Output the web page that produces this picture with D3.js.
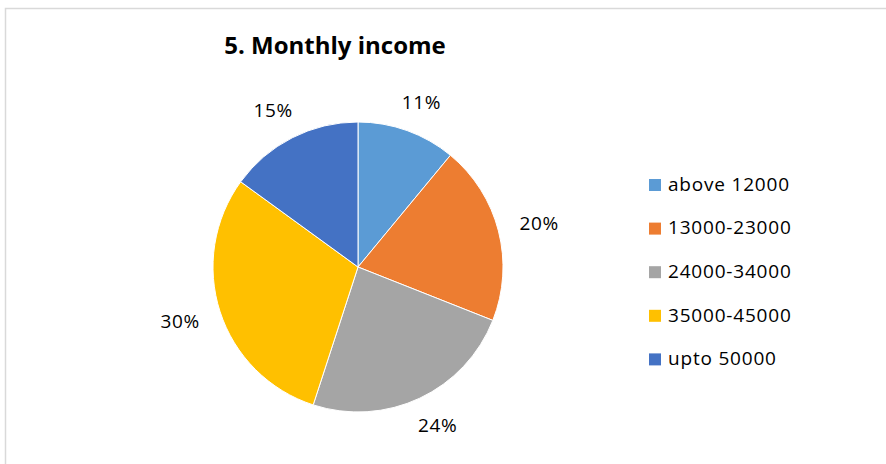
<!DOCTYPE html>
<html>
<head>
    <meta charset="UTF-8">
    <title>Monthly income</title>
    <style>
        body { margin: 0; background: #fff; }
        text { font-family: "Open Sans", Lato, sans-serif; fill: #000; }
        .title { font-size: 24px; font-weight: bold; }
        .lbl { font-size: 19px; letter-spacing: 0.6px; }
        .legend text { font-size: 19px; letter-spacing: 0.8px; }
    </style>
</head>
<body>
<svg width="886" height="464"></svg>
<script src="https://cdn.jsdelivr.net/npm/d3@7/dist/d3.min.js"></script>
<script>
    // data
    var categories = ["above 12000", "13000-23000", "24000-34000", "35000-45000", "upto 50000"];
    var values = [11, 20, 24, 30, 15];
    var colors = ["#5b9bd5", "#ed7d31", "#a5a5a5", "#ffc000", "#4472c4"];

    var svg = d3.select("svg");

    // outer frame, runs off the right and bottom edges
    svg.append("rect")
        .attr("x", 5.5).attr("y", 8.5)
        .attr("width", 900).attr("height", 480)
        .attr("fill", "#fff")
        .attr("stroke", "#d9d9d9")
        .attr("stroke-width", 1.5);

    svg.append("text")
        .attr("class", "title")
        .attr("x", 335).attr("y", 54)
        .attr("text-anchor", "middle")
        .text("5. Monthly income");

    var cx = 358, cy = 267, r = 145;
    var color = d3.scaleOrdinal().domain(categories).range(colors);

    var pie = d3.pie().sort(null).value(function (d, i) { return values[i]; });
    var arcs = pie(categories);
    var arc = d3.arc().innerRadius(0).outerRadius(r);
    var lr = r + 22;

    var g = svg.append("g").attr("transform", "translate(" + cx + "," + cy + ")");

    g.selectAll("path")
        .data(arcs)
        .enter().append("path")
        .attr("d", arc)
        .attr("fill", function (d) { return color(d.data); })
        .attr("stroke", "#fff")
        .attr("stroke-width", 1);

    // outside-end labels: push the label box out along the mid angle
    g.selectAll("text.lbl")
        .data(arcs)
        .enter().append("text")
        .attr("class", "lbl")
        .attr("text-anchor", "middle")
        .attr("dy", "0.35em")
        .attr("transform", function (d) {
            var a = (d.startAngle + d.endAngle) / 2;
            var x = Math.sin(a) * lr + Math.sin(a) * 20;
            var y = -Math.cos(a) * lr - Math.cos(a) * 8.5;
            return "translate(" + x + "," + y + ")";
        })
        .text(function (d) { return d.value + "%"; });

    // legend
    var legend = svg.append("g").attr("class", "legend")
        .attr("transform", "translate(649,185)");
    var rows = legend.selectAll("g")
        .data(categories)
        .enter().append("g")
        .attr("transform", function (d, i) { return "translate(0," + (i * 43.6) + ")"; });
    rows.append("rect")
        .attr("x", 0).attr("y", -6)
        .attr("width", 12).attr("height", 12)
        .attr("fill", function (d) { return color(d); });
    rows.append("text")
        .attr("x", 19).attr("dy", "0.3em")
        .text(function (d) { return d; });
</script>
</body>
</html>
